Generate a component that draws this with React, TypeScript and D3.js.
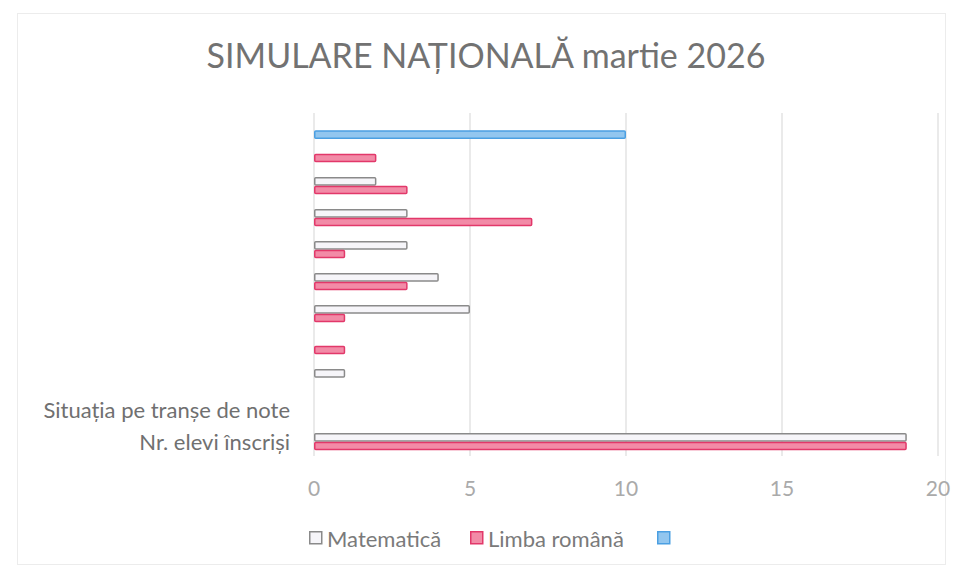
import React from 'react';
import * as d3 from 'd3';

const title = 'SIMULARE NAȚIONALĂ martie 2026';
const categories = ['', '', '', '', '', '', '', '', '', 'Situația pe tranșe de note', 'Nr. elevi înscriși'];
const seriesNames = ['Matematică', 'Limba română', ''];
const matematica = [0, 0, 2, 3, 3, 4, 5, 0, 1, 0, 19];
const limbaRomana = [0, 2, 3, 7, 1, 3, 1, 1, 0, 0, 19];
const serie3 = [10, 0, 0, 0, 0, 0, 0, 0, 0, 0, 0];
const xTicks = [0, 5, 10, 15, 20];

const W = 954;
const H = 571;
const FONT = 'Lato, "Open Sans", sans-serif';

const seriesStyles = [
  { fill: '#f6f5f9', stroke: '#8a8a8a' },
  { fill: '#f28ba7', stroke: '#e2386a' },
  { fill: '#92c6ef', stroke: '#4b9fe2' },
];

export default function App() {
  const series = [matematica, limbaRomana, serie3];
  const x = d3.scaleLinear().domain([0, 20]).range([314, 938]);
  const y = d3.scaleBand<number>().domain(d3.range(categories.length)).range([110, 462]);
  const inner = d3.scaleBand<number>().domain(d3.range(series.length)).range([-13, 13]);
  const gridTop = 113;
  const gridBottom = 456;

  const legendX = [309, 470, 657];

  return (
    <svg width={W} height={H} style={{ position: 'absolute', left: 0, top: 0, background: '#fff' }}>
      <rect x={0} y={0} width={W} height={H} fill="#ffffff" />
      <rect x={17.5} y={13.5} width={928} height={551} fill="none" stroke="#ececec" strokeWidth={1} />
      <text x={486} y={68} textAnchor="middle" fontFamily={FONT} fontSize={34} fill="#727272">
        {title}
      </text>
      {xTicks.map((t) => (
        <line key={'g' + t} x1={x(t)} x2={x(t)} y1={gridTop} y2={gridBottom} stroke="#dcdcdc" strokeWidth={1.2} />
      ))}
      {xTicks.map((t) => (
        <text key={'t' + t} x={x(t)} y={496} textAnchor="middle" fontFamily={FONT} fontSize={21} fill="#aaaaaa">
          {t}
        </text>
      ))}
      {categories.map((c, i) => (
        <text
          key={'c' + i}
          x={290}
          y={(y(i) as number) + y.bandwidth() / 2 - 5}
          dominantBaseline="central"
          textAnchor="end"
          fontFamily={FONT}
          fontSize={22}
          fill="#707070"
        >
          {c}
        </text>
      ))}
      {series.map((vals, s) =>
        vals.map((v, i) => {
          if (!v) return null;
          const by = (y(i) as number) + y.bandwidth() / 2 + (inner(s) as number);
          return (
            <rect
              key={s + '-' + i}
              x={x(0) + 0.75}
              y={by + 0.75}
              width={x(v) - x(0) - 1.5}
              height={inner.bandwidth() - 1.5}
              fill={seriesStyles[s].fill}
              stroke={seriesStyles[s].stroke}
              strokeWidth={1.5}
              rx={1}
            />
          );
        })
      )}
      {seriesNames.map((n, s) => (
        <g key={'l' + s} transform={`translate(${legendX[s]},531)`}>
          <rect x={0.75} y={0.75} width={12} height={12} fill={seriesStyles[s].fill} stroke={seriesStyles[s].stroke} strokeWidth={1.5} />
          <text x={18} y={7} dominantBaseline="central" fontFamily={FONT} fontSize={22} fill="#7a7a7a">
            {n}
          </text>
        </g>
      ))}
    </svg>
  );
}
